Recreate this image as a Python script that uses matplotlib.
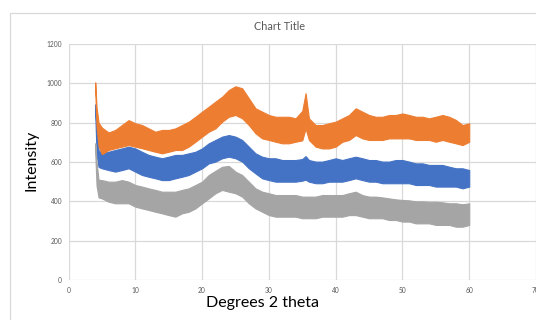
import matplotlib
matplotlib.use("Agg")
import matplotlib.pyplot as plt
from matplotlib.patches import Rectangle

# ---- data (envelope of each noisy trace) ----
two_theta = [4.0, 4.2, 4.5, 5, 6, 7, 8, 9, 10, 11, 12, 13, 14, 15, 16, 17, 18, 19, 20,
             21, 22, 23, 24, 25, 26, 27, 28, 29, 30, 31, 32, 33, 34, 35, 35.5, 36, 37,
             38, 39, 40, 41, 42, 43, 44, 45, 46, 47, 48, 49, 50, 51, 52, 53, 54, 55,
             56, 57, 58, 59, 60]

orange_upper = [1005, 880, 800, 775, 750, 763, 788, 813, 797, 788, 771, 754, 763, 763, 771,
                788, 805, 830, 856, 881, 907, 932, 966, 985, 975, 924, 873, 856, 839, 830,
                830, 830, 822, 860, 950, 822, 788, 788, 797, 805, 822, 839, 873, 856, 839,
                830, 830, 839, 839, 847, 839, 830, 830, 822, 830, 839, 830, 814, 788, 797]
orange_lower = [960, 780, 680, 640, 661, 670, 678, 686, 678, 670, 661, 652, 644, 652, 661,
                661, 678, 703, 729, 754, 771, 805, 830, 839, 822, 788, 746, 720, 712, 703,
                695, 695, 703, 710, 770, 712, 678, 669, 669, 678, 703, 712, 737, 720, 712,
                712, 712, 720, 720, 720, 720, 712, 712, 712, 703, 712, 703, 695, 686, 703]

blue_upper = [893, 760, 660, 644, 652, 661, 669, 678, 669, 652, 636, 627, 619, 627, 636,
              636, 644, 652, 669, 695, 712, 729, 737, 729, 712, 678, 644, 627, 619, 619,
              610, 610, 610, 615, 630, 610, 602, 602, 610, 619, 610, 619, 627, 619, 610,
              610, 602, 602, 610, 610, 602, 593, 593, 585, 585, 585, 576, 568, 568, 559]
blue_lower = [850, 640, 575, 568, 559, 551, 559, 568, 551, 534, 525, 517, 508, 508, 517,
              525, 534, 551, 568, 593, 602, 619, 627, 619, 602, 568, 542, 517, 508, 500,
              500, 500, 500, 505, 510, 500, 492, 492, 500, 500, 500, 508, 517, 508, 500,
              500, 492, 492, 492, 492, 492, 483, 483, 483, 475, 475, 475, 475, 466, 475]

gray_upper = [695, 600, 510, 508, 500, 500, 508, 500, 483, 475, 466, 458, 449, 449, 449,
              458, 466, 483, 500, 534, 555, 576, 580, 551, 534, 500, 466, 449, 441, 432,
              432, 432, 432, 424, 424, 424, 424, 432, 432, 432, 432, 441, 449, 432, 424,
              424, 420, 415, 410, 407, 405, 400, 400, 398, 398, 395, 390, 390, 385, 390]
gray_lower = [650, 480, 420, 415, 398, 390, 390, 390, 373, 364, 356, 347, 339, 330, 322,
              339, 347, 364, 390, 415, 441, 458, 449, 441, 424, 390, 364, 347, 330, 322,
              322, 322, 322, 314, 314, 314, 314, 322, 322, 322, 322, 330, 330, 322, 314,
              314, 314, 305, 305, 297, 297, 288, 288, 288, 280, 280, 280, 271, 271, 280]

x_ticks = [0, 10, 20, 30, 40, 50, 60, 70]
y_ticks = [0, 200, 400, 600, 800, 1000, 1200]

BLUE, ORANGE, GRAY = "#4472C4", "#ED7D31", "#A5A5A5"
FONT = ["Lato", "DejaVu Sans"]

fig = plt.figure(figsize=(5.36, 3.2), dpi=100)
fig.patch.set_facecolor("white")

# chart-area border
fig.patches.append(Rectangle((10 / 536, -0.1), 1.2, 1 - 13 / 320 + 0.1,
                             transform=fig.transFigure, fill=False,
                             edgecolor="#D9D9D9", linewidth=0.9))

ax = fig.add_axes([68.5 / 536, 1 - 280 / 320, 467.5 / 536, (280 - 44) / 320])
ax.set_xlim(0, 70)
ax.set_ylim(0, 1200)
ax.set_xticks(x_ticks)
ax.set_yticks(y_ticks)
ax.set_xticklabels([str(t) for t in x_ticks], fontsize=4.8, color="#595959", family=FONT)
ax.set_yticklabels([str(t) for t in y_ticks], fontsize=4.8, color="#595959", family=FONT)
ax.tick_params(length=0)
ax.tick_params(axis="y", pad=4.6)
ax.tick_params(axis="x", pad=5.3)
for s in ax.spines.values():
    s.set_visible(False)
ax.grid(True, color="#D9D9D9", linewidth=0.9)
ax.set_axisbelow(True)

for up, lo, col in [(blue_upper, blue_lower, BLUE),
                    (orange_upper, orange_lower, ORANGE),
                    (gray_upper, gray_lower, GRAY)]:
    ax.fill_between(two_theta, lo, up, facecolor=col, edgecolor=col, linewidth=0.8)

fig.text(279 / 536, 1 - 27 / 320, "Chart Title", ha="center", va="center",
         fontsize=7.8, color="#595959", family=FONT)
fig.text(32 / 536, 1 - 160 / 320, "Intensity", rotation=90, ha="center", va="center",
         fontsize=11.5, color="black", family=FONT)
fig.text(263 / 536, 1 - 303 / 320, "Degrees 2 theta", ha="center", va="center",
         fontsize=11.5, color="black", family=FONT)

fig.savefig("out.png", dpi=100)
